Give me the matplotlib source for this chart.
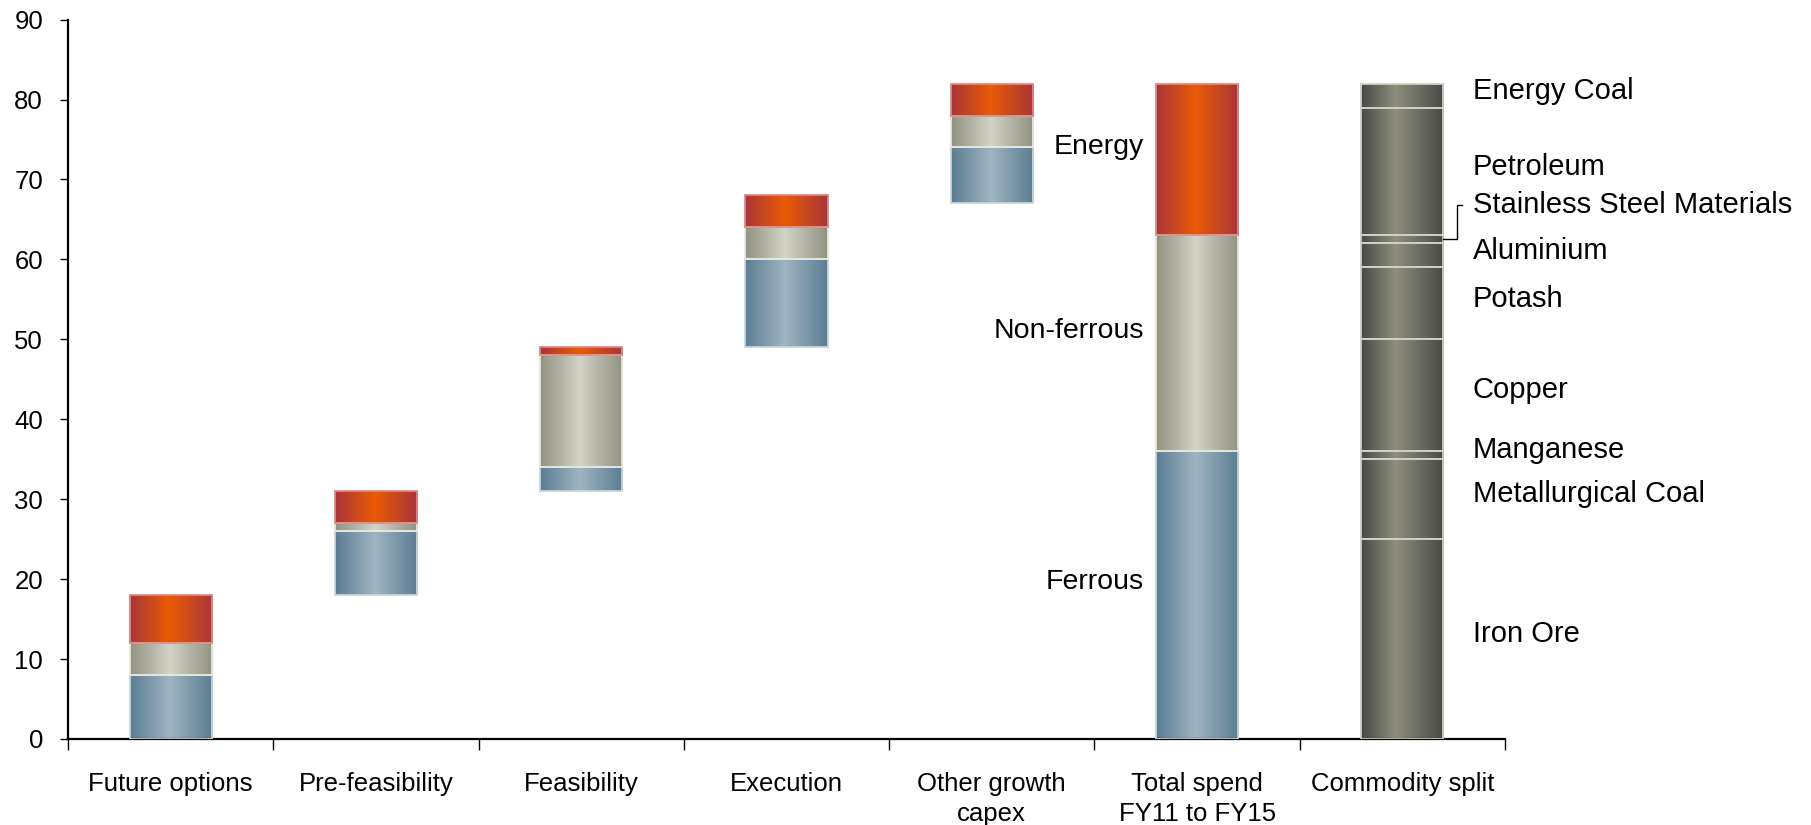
import numpy as np
import matplotlib
matplotlib.use("Agg")
import matplotlib.pyplot as plt
from matplotlib.colors import LinearSegmentedColormap

plt.rcParams['font.family'] = ['Liberation Sans', 'DejaVu Sans']

# growth capex by stage, US$bn, stacked by segment
stages = ['Future options', 'Pre-feasibility', 'Feasibility', 'Execution',
          'Other growth\ncapex', 'Total spend\nFY11 to FY15']
base = [0, 18, 31, 49, 67, 0]
ferrous = [8, 8, 3, 11, 7, 36]
non_ferrous = [4, 1, 14, 4, 4, 27]
energy = [6, 4, 1, 4, 4, 19]
segment_names = ['Ferrous', 'Non-ferrous', 'Energy']

# split of the total by commodity, bottom to top
commodities = ['Iron Ore', 'Metallurgical Coal', 'Manganese', 'Copper', 'Potash',
               'Aluminium', 'Stainless Steel Materials', 'Petroleum', 'Energy Coal']
commodity_spend = [25, 10, 1, 14, 9, 3, 1, 16, 3]
split_label = 'Commodity split'


def shade(edge, mid, peak=0.48):
    return LinearSegmentedColormap.from_list('', [(0, edge), (peak, mid), (1, edge)])


styles = {
    'Ferrous': (shade('#5a7d93', '#a0b4c1'), '#c9d5dd'),
    'Non-ferrous': (shade('#929282', '#d2d2c6'), '#e8e8de'),
    'Energy': (shade('#a8363a', '#ea5a04'), '#dc8a86'),
}
split_style = (shade('#474a44', '#8e8e7d', 0.42), '#cfcfc6')
ramp = np.linspace(0, 1, 256).reshape(1, -1)


def gradient_bars(ax, x, heights, bottoms, cmap, edge):
    bars = ax.bar(x, heights, width=0.4, bottom=bottoms, facecolor='none',
                  edgecolor=edge, linewidth=1.3, zorder=3)
    for p in bars.patches:
        if p.get_height() <= 0:
            continue
        x0, y0 = p.get_x(), p.get_y()
        im = ax.imshow(ramp, extent=[x0, x0 + p.get_width(), y0, y0 + p.get_height()],
                       cmap=cmap, aspect='auto', interpolation='bilinear', zorder=2)
        im.set_clip_path(p)
    return bars


fig = plt.figure(figsize=(18.11, 8.25), dpi=100)
ax = fig.add_axes([68 / 1811, 86 / 825, 1437 / 1811, 719.4 / 825])

x = np.arange(len(stages)) + 0.5
bottom = np.array(base, dtype=float)
for name, vals in zip(segment_names, [ferrous, non_ferrous, energy]):
    cmap, edge = styles[name]
    gradient_bars(ax, x, vals, bottom, cmap, edge)
    bottom = bottom + np.array(vals)

# commodity split column
xs = len(stages) + 0.5
cum = np.concatenate([[0], np.cumsum(commodity_spend)])
gradient_bars(ax, [xs] * len(commodity_spend), commodity_spend, cum[:-1], *split_style)

# segment labels beside the total column
xt = x[-1] - 0.26
lo = 0
for name, v in zip(segment_names, [ferrous[-1], non_ferrous[-1], energy[-1]]):
    ax.text(xt, lo + v / 2 + 1.6, name, ha='right', va='center', fontsize=20.5)
    lo += v

# commodity labels
xl = xs + 0.342
for i, name in enumerate(commodities):
    mid = (cum[i] + cum[i + 1]) / 2
    if name == 'Stainless Steel Materials':
        ly = 66.8
        ax.plot([xs + 0.2, xs + 0.266, xs + 0.266, xs + 0.29], [mid, mid, ly, ly],
                color='black', lw=1, zorder=4, clip_on=False)
    else:
        ly = mid + 0.6
    ax.text(xl, ly, name, ha='left', va='center', fontsize=21)

ax.set_xlim(0, 7)
ax.set_ylim(0, 90)
ax.set_yticks(range(0, 91, 10))
ax.set_xticks(range(0, 8))
ax.set_xticklabels([])
ax.set_xticks(np.arange(7) + 0.5, minor=True)
ax.set_xticklabels(stages + [split_label], minor=True, fontsize=18.5, linespacing=1.3)
ax.tick_params(axis='x', which='major', direction='out', length=8, width=1)
ax.tick_params(axis='x', which='minor', length=0, pad=24)
ax.tick_params(axis='y', direction='out', length=6, width=1, labelsize=18.5, pad=12)
for s in ['top', 'right']:
    ax.spines[s].set_visible(False)
for s in ['left', 'bottom']:
    ax.spines[s].set_linewidth(1.6)

fig.savefig('out.png', dpi=100)
